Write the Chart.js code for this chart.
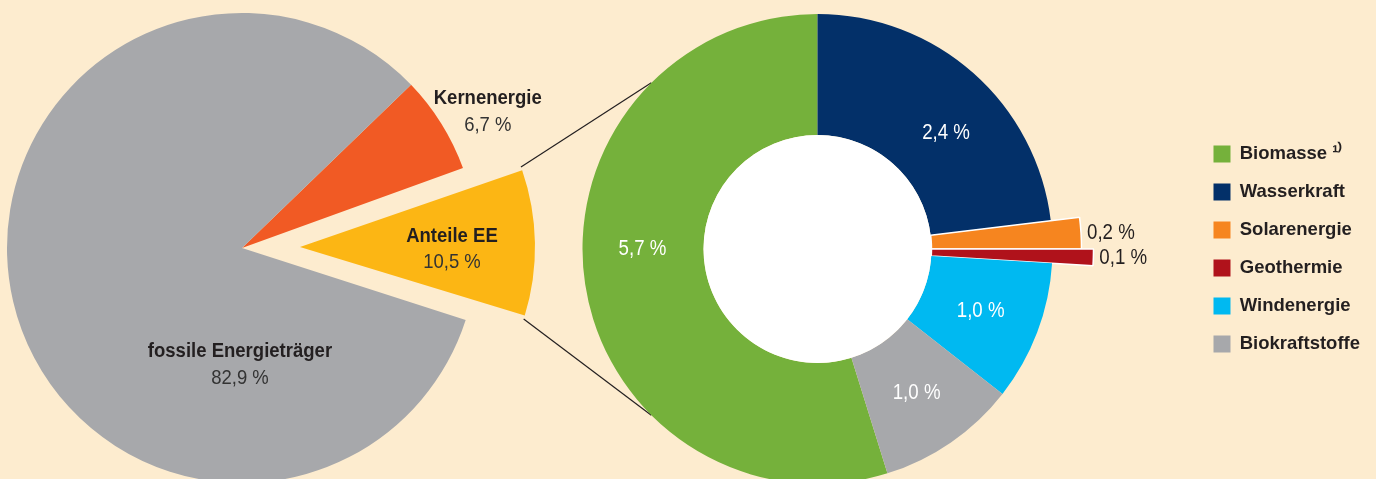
<!DOCTYPE html>
<html>
<head>
<meta charset="utf-8">
<script src="https://cdn.jsdelivr.net/npm/chart.js@4.4.0/dist/chart.umd.min.js"></script>
<style>
  html, body { margin: 0; padding: 0; background: #fdeccf; }
  #wrap { position: relative; width: 1376px; height: 479px; overflow: hidden; }
  #wrap > div { position: absolute; top: 0; height: 479px; }
  #left { left: 0; width: 700px; }
  #right { left: 441px; width: 935px; }
</style>
</head>
<body>
<div id="wrap">
  <div id="left"><canvas id="pie-chart"></canvas></div>
  <div id="right"><canvas id="donut-chart"></canvas></div>
</div>
<script>
// Anteile am Primärenergieverbrauch in %
const mainLabels = ["Kernenergie", "Anteile EE", "fossile Energieträger"];
const mainValues = [6.7, 10.5, 82.9];
const mainColors = ["#f15a24", "#fcb614", "#a7a8ab"];

// Aufteilung der erneuerbaren Energien in %
const eeLabels = ["Biomasse ¹⁾", "Wasserkraft", "Solarenergie", "Geothermie", "Windenergie", "Biokraftstoffe"];
const eeValues = [5.7, 2.4, 0.2, 0.1, 1.0, 1.0];
const eeColors = ["#75b13b", "#033069", "#f6851f", "#b0121b", "#00b9f1", "#a7a8ab"];

const SANS = '"Liberation Sans", Arial, sans-serif';
const DARK = "#231f20";
const fmt = v => v.toFixed(1).replace(".", ",") + " %";

// ArcElement.draw moves an offset arc by offset/4 and also grows its radius a bit
const arcShift = arc => (arc.options.offset || 0) / 4;
const arcGrow = arc => arcShift(arc) * (1 - Math.sin(Math.min(Math.PI, arc.circumference || 0)));

const sliceLabels = {
  id: 'sliceLabels',
  afterDatasetsDraw(chart, args, opts) {
    const ctx = chart.ctx;
    const arcs = chart.getDatasetMeta(0).data;
    opts.items.forEach((item, i) => {
      const arc = arcs[i];
      const mid = (arc.startAngle + arc.endAngle) / 2;
      const s = arcShift(arc);
      const cx = arc.x + Math.cos(mid) * s, cy = arc.y + Math.sin(mid) * s;
      const ang = item.angle != null ? (item.angle - 90) * Math.PI / 180 : mid;
      let r = item.r;
      if (r === 'mid') r = (arc.innerRadius + arc.outerRadius) / 2;
      if (r === 'out') r = arc.outerRadius + arcGrow(arc) + item.gap;
      const x = cx + Math.cos(ang) * r, y = cy + Math.sin(ang) * r;
      item.lines.forEach((ln, k) => {
        ctx.save();
        ctx.translate(x, y + (k - (item.lines.length - 1) / 2) * opts.lineGap);
        ctx.scale(ln.squeeze || 1, 1);
        ctx.font = ln.font;
        ctx.fillStyle = ln.color;
        ctx.textAlign = item.align || 'center';
        ctx.textBaseline = 'middle';
        ctx.fillText(ln.text, 0, 0);
        ctx.restore();
      });
    });
  }
};

const hole = {
  id: 'hole',
  afterDatasetsDraw(chart, args, opts) {
    const a = chart.getDatasetMeta(0).data[0];
    const ctx = chart.ctx;
    ctx.save();
    ctx.beginPath();
    ctx.arc(a.x, a.y, a.innerRadius, 0, Math.PI * 2);
    ctx.fillStyle = opts.color;
    ctx.fill();
    ctx.restore();
  }
};

// per slice radius change; offset slices keep their radius
const radiusFix = {
  id: 'radiusFix',
  afterDatasetUpdate(chart, args, opts) {
    args.meta.data.forEach((arc, i) => {
      arc.outerRadius += (opts.extra[i] || 0) - arcGrow(arc);
    });
  }
};

const connector = {
  id: 'connector',
  beforeDatasetsDraw(chart, args, opts) {
    const src = opts.source;
    const ee = src.getDatasetMeta(0).data[opts.index];
    const r1 = src.canvas.getBoundingClientRect(), r2 = chart.canvas.getBoundingClientRect();
    const dx = r1.left - r2.left, dy = r1.top - r2.top;
    const mid = (ee.startAngle + ee.endAngle) / 2, s = arcShift(ee);
    const cx = ee.x + Math.cos(mid) * s + dx, cy = ee.y + Math.sin(mid) * s + dy;
    const R = ee.outerRadius + arcGrow(ee);
    const d = chart.getDatasetMeta(0).data[0];
    const ctx = chart.ctx;
    ctx.save();
    ctx.strokeStyle = opts.color;
    ctx.lineWidth = opts.width;
    [[ee.startAngle, opts.angles[0]], [ee.endAngle, opts.angles[1]]].forEach(([a, b]) => {
      const t = b * Math.PI / 180;
      ctx.beginPath();
      ctx.moveTo(cx + Math.cos(a) * R, cy + Math.sin(a) * R);
      ctx.lineTo(d.x + Math.cos(t) * d.outerRadius, d.y + Math.sin(t) * d.outerRadius);
      ctx.stroke();
    });
    ctx.restore();
  }
};

const bold = '700 19.5px ' + SANS;
const light = '400 21px ' + SANS;

const pieChart = new Chart(document.getElementById("pie-chart"), {
  type: 'pie',
  plugins: [radiusFix, sliceLabels],
  data: {
    labels: mainLabels,
    datasets: [{
      data: mainValues,
      backgroundColor: mainColors,
      borderWidth: 0,
      offset: [0, 232, 0]
    }]
  },
  options: {
    responsive: true,
    maintainAspectRatio: false,
    animation: false,
    events: [],
    rotation: 46,
    radius: 235,
    layout: { padding: { top: 17, right: 216 } },
    plugins: {
      legend: { display: false },
      tooltip: { enabled: false },
      radiusFix: { extra: [] },
      sliceLabels: {
        lineGap: 26,
        items: mainLabels.map((l, i) => ({
          angle: [61, 91, 181][i],
          r: [281, 152, 117][i],
          lines: [
            { text: l, font: bold, color: DARK, squeeze: 0.95 },
            { text: fmt(mainValues[i]), font: light, color: "#333", squeeze: 0.88 }
          ]
        }))
      }
    }
  }
});

const eeSum = eeValues.reduce((a, b) => a + b, 0);
const numFont = '400 22px ' + SANS;

new Chart(document.getElementById("donut-chart"), {
  type: 'doughnut',
  plugins: [radiusFix, connector, hole, sliceLabels],
  data: {
    labels: eeLabels,
    datasets: [{
      data: eeValues,
      backgroundColor: eeColors,
      borderColor: "#ffffff",
      borderWidth: [0, 0, 1.5, 1.5, 0, 0]
    }]
  },
  options: {
    responsive: true,
    maintainAspectRatio: false,
    animation: false,
    events: [],
    rotation: -eeValues[0] / eeSum * 360,
    radius: 235,
    cutout: '48.5%',
    layout: { padding: { top: 19, right: 6 } },
    plugins: {
      tooltip: { enabled: false },
      legend: {
        position: 'right',
        labels: {
          boxWidth: 17,
          boxHeight: 17,
          padding: 19.5,
          color: DARK,
          font: { family: SANS, size: 18.5, weight: 'bold' },
          generateLabels: chart => Chart.overrides.doughnut.plugins.legend.labels
            .generateLabels(chart).map(it => ({ ...it, lineWidth: 0 }))
        }
      },
      radiusFix: { extra: [0, 0, 29, 41, 0, 0] },
      hole: { color: "#ffffff" },
      connector: { source: pieChart, index: 1, angles: [-135, 135], color: DARK, width: 1.2 },
      sliceLabels: {
        lineGap: 26,
        items: eeValues.map((v, i) => {
          const small = v < 0.5;
          return {
            angle: [270, 48, null, null, null, null][i],
            r: small ? 'out' : ([175, 173][i] || 'mid'),
            gap: 6,
            align: small ? 'left' : 'center',
            lines: [{ text: fmt(v), font: numFont, color: small ? DARK : "#ffffff", squeeze: 0.85 }]
          };
        })
      }
    }
  }
});
</script>
</body>
</html>
